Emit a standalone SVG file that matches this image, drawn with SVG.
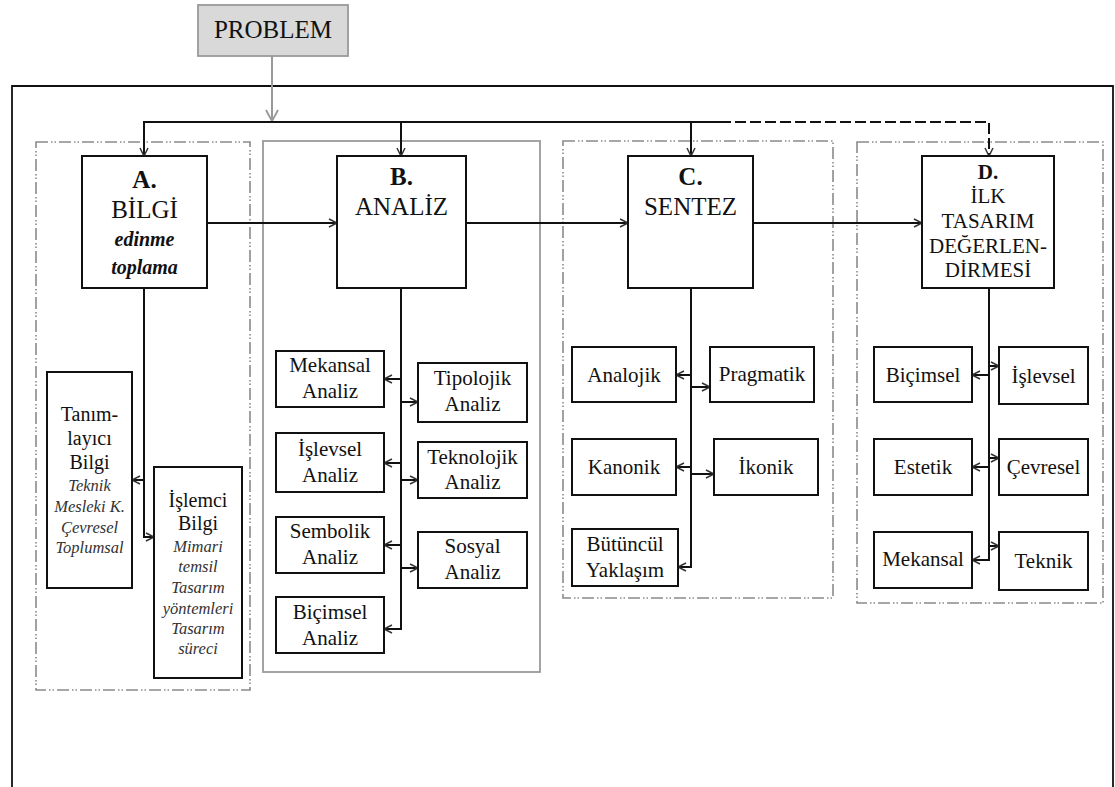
<svg xmlns="http://www.w3.org/2000/svg" width="1115" height="787" viewBox="0 0 1115 787">
<style>
text{font-family:"Liberation Serif","Times New Roman",serif;fill:#111;text-anchor:middle}
.t25{font-size:25px}
.b25{font-size:25px;font-weight:bold}
.t21{font-size:21px}
.b21{font-size:21px;font-weight:bold}
.bi{font-size:20px;font-weight:bold;font-style:italic}
.s{font-size:20px}
.m{font-size:21px}
.i{font-size:16.5px;font-style:italic;fill:#333}
.box{fill:#fff;stroke:#111;stroke-width:2}
.grp{fill:none;stroke:#8a8a8a;stroke-width:1.6;stroke-dasharray:12 3 1.5 2 1.5 3}
.grps{fill:none;stroke:#9a9a9a;stroke-width:1.8}
.ln{fill:none;stroke:#111;stroke-width:2}
</style>
<defs>
<marker id="ah" markerUnits="userSpaceOnUse" markerWidth="12" markerHeight="12" refX="9" refY="5" orient="auto">
<path d="M1,1 L9,5 L1,9" fill="none" stroke="#333" stroke-width="1.5"/>
</marker>
<marker id="ahg" markerUnits="userSpaceOnUse" markerWidth="16" markerHeight="16" refX="12" refY="7" orient="auto">
<path d="M1,1 L12,7 L1,13" fill="none" stroke="#999" stroke-width="1.8"/>
</marker>
</defs>

<g id="frame">
<polyline points="12,787 12,86 1113,86 1113,787" fill="none" stroke="#111" stroke-width="1.8"/>
</g>

<g id="groups">
<rect id="groupA" class="grp" x="36" y="142" width="214" height="548"/>
<rect id="groupB" class="grps" x="263" y="141" width="277" height="531"/>
<rect id="groupC" class="grp" x="563" y="141" width="270" height="457"/>
<rect id="groupD" class="grp" x="857" y="142" width="246" height="461"/>
</g>

<g id="connectors">
<line x1="272" y1="56" x2="272" y2="121" stroke="#999" stroke-width="2" marker-end="url(#ahg)"/>
<polyline class="ln" points="144,156 144,122 720,122"/>
<polyline class="ln" points="720,122 989,122 989,156" stroke-dasharray="11 4" marker-end="url(#ah)"/>
<line class="ln" x1="144" y1="122" x2="144" y2="156" marker-end="url(#ah)"/>
<line class="ln" x1="401" y1="122" x2="401" y2="156" marker-end="url(#ah)"/>
<line class="ln" x1="691" y1="122" x2="691" y2="156" marker-end="url(#ah)"/>
<line class="ln" x1="207" y1="223" x2="337" y2="223" marker-end="url(#ah)"/>
<line class="ln" x1="466" y1="223" x2="628" y2="223" marker-end="url(#ah)"/>
<line class="ln" x1="753" y1="223" x2="922" y2="223" marker-end="url(#ah)"/>

<polyline class="ln" points="144,288 144,537 154,537" marker-end="url(#ah)"/>
<line class="ln" x1="144" y1="480" x2="132" y2="480" marker-end="url(#ah)"/>

<polyline class="ln" points="401,288 401,629 384,629" marker-end="url(#ah)"/>
<line class="ln" x1="401" y1="379" x2="384" y2="379" marker-end="url(#ah)"/>
<line class="ln" x1="401" y1="463" x2="384" y2="463" marker-end="url(#ah)"/>
<line class="ln" x1="401" y1="545" x2="384" y2="545" marker-end="url(#ah)"/>
<line class="ln" x1="401" y1="402" x2="418" y2="402" marker-end="url(#ah)"/>
<line class="ln" x1="401" y1="480" x2="418" y2="480" marker-end="url(#ah)"/>
<line class="ln" x1="401" y1="568" x2="418" y2="568" marker-end="url(#ah)"/>

<polyline class="ln" points="691,288 691,567 678,567" marker-end="url(#ah)"/>
<line class="ln" x1="691" y1="375" x2="676" y2="375" marker-end="url(#ah)"/>
<line class="ln" x1="691" y1="467" x2="676" y2="467" marker-end="url(#ah)"/>
<line class="ln" x1="691" y1="387" x2="710" y2="387" marker-end="url(#ah)"/>
<line class="ln" x1="691" y1="474" x2="714" y2="474" marker-end="url(#ah)"/>

<polyline class="ln" points="989,288 989,560 972,560" marker-end="url(#ah)"/>
<line class="ln" x1="989" y1="375" x2="972" y2="375" marker-end="url(#ah)"/>
<line class="ln" x1="989" y1="467" x2="972" y2="467" marker-end="url(#ah)"/>
<line class="ln" x1="989" y1="366" x2="999" y2="366" marker-end="url(#ah)"/>
<line class="ln" x1="989" y1="458" x2="999" y2="458" marker-end="url(#ah)"/>
<line class="ln" x1="989" y1="546" x2="999" y2="546" marker-end="url(#ah)"/>
</g>

<g id="problem">
<rect x="198" y="5" width="150" height="51" fill="#d9d9d9" stroke="#999" stroke-width="1.8"/>
<text class="t25" x="273" y="38">PROBLEM</text>
</g>

<g id="nodeA">
<rect class="box" x="82" y="156" width="125" height="132"/>
<text class="b25" x="144.5" y="188">A.</text>
<text class="t25" x="144.5" y="218">BİLGİ</text>
<text class="bi" x="144.5" y="246">edinme</text>
<text class="bi" x="144.5" y="274">toplama</text>
</g>
<g id="nodeB">
<rect class="box" x="337" y="156" width="129" height="132"/>
<text class="b25" x="401.5" y="185">B.</text>
<text class="t25" x="401.5" y="215">ANALİZ</text>
</g>
<g id="nodeC">
<rect class="box" x="628" y="156" width="125" height="132"/>
<text class="b25" x="690.5" y="185">C.</text>
<text class="t25" x="690.5" y="215">SENTEZ</text>
</g>
<g id="nodeD">
<rect class="box" x="922" y="156" width="132" height="132"/>
<text class="b21" x="988" y="179">D.</text>
<text class="t21" x="988" y="203">İLK</text>
<text class="t21" x="988" y="228">TASARIM</text>
<text class="t21" x="988" y="253">DEĞERLEN-</text>
<text class="t21" x="988" y="277">DİRMESİ</text>
</g>

<g id="tanimlayici">
<rect class="box" x="47" y="372" width="85" height="216"/>
<text class="s" x="89.5" y="421">Tanım-</text>
<text class="s" x="89.5" y="445">layıcı</text>
<text class="s" x="89.5" y="469">Bilgi</text>
<text class="i" x="89.5" y="491">Teknik</text>
<text class="i" x="89.5" y="512">Mesleki K.</text>
<text class="i" x="89.5" y="533">Çevresel</text>
<text class="i" x="89.5" y="553">Toplumsal</text>
</g>
<g id="islemci">
<rect class="box" x="154" y="467" width="88" height="211"/>
<text class="s" x="198" y="507">İşlemci</text>
<text class="s" x="198" y="530">Bilgi</text>
<text class="i" x="198" y="552">Mimari</text>
<text class="i" x="198" y="572">temsil</text>
<text class="i" x="198" y="593">Tasarım</text>
<text class="i" x="198" y="614">yöntemleri</text>
<text class="i" x="198" y="634">Tasarım</text>
<text class="i" x="198" y="654">süreci</text>
</g>

<g id="mekansalAnaliz">
<rect class="box" x="276" y="351" width="108" height="56"/>
<text class="m" x="330" y="372">Mekansal</text>
<text class="m" x="330" y="398">Analiz</text>
</g>
<g id="islevselAnaliz">
<rect class="box" x="276" y="433" width="108" height="59"/>
<text class="m" x="330" y="456">İşlevsel</text>
<text class="m" x="330" y="482">Analiz</text>
</g>
<g id="sembolikAnaliz">
<rect class="box" x="276" y="517" width="108" height="56"/>
<text class="m" x="330" y="538">Sembolik</text>
<text class="m" x="330" y="564">Analiz</text>
</g>
<g id="bicimselAnaliz">
<rect class="box" x="276" y="597" width="108" height="56"/>
<text class="m" x="330" y="619">Biçimsel</text>
<text class="m" x="330" y="645">Analiz</text>
</g>
<g id="tipolojikAnaliz">
<rect class="box" x="418" y="363" width="109" height="59"/>
<text class="m" x="472.5" y="385">Tipolojik</text>
<text class="m" x="472.5" y="411">Analiz</text>
</g>
<g id="teknolojikAnaliz">
<rect class="box" x="418" y="442" width="109" height="56"/>
<text class="m" x="472.5" y="464">Teknolojik</text>
<text class="m" x="472.5" y="489">Analiz</text>
</g>
<g id="sosyalAnaliz">
<rect class="box" x="418" y="532" width="109" height="56"/>
<text class="m" x="472.5" y="553">Sosyal</text>
<text class="m" x="472.5" y="579">Analiz</text>
</g>

<g id="analojik">
<rect class="box" x="572" y="347" width="104" height="55"/>
<text class="m" x="624" y="382">Analojik</text>
</g>
<g id="pragmatik">
<rect class="box" x="710" y="347" width="104" height="55"/>
<text class="m" x="762" y="381">Pragmatik</text>
</g>
<g id="kanonik">
<rect class="box" x="572" y="439" width="104" height="56"/>
<text class="m" x="624" y="474">Kanonik</text>
</g>
<g id="ikonik">
<rect class="box" x="714" y="439" width="104" height="56"/>
<text class="m" x="766" y="474">İkonik</text>
</g>
<g id="butuncul">
<rect class="box" x="572" y="529" width="106" height="57"/>
<text class="m" x="625" y="551">Bütüncül</text>
<text class="m" x="625" y="577">Yaklaşım</text>
</g>

<g id="bicimsel">
<rect class="box" x="874" y="347" width="98" height="55"/>
<text class="m" x="923" y="382">Biçimsel</text>
</g>
<g id="islevsel">
<rect class="box" x="999" y="347" width="89" height="57"/>
<text class="m" x="1043.5" y="383">İşlevsel</text>
</g>
<g id="estetik">
<rect class="box" x="874" y="439" width="98" height="56"/>
<text class="m" x="923" y="474">Estetik</text>
</g>
<g id="cevresel">
<rect class="box" x="999" y="439" width="89" height="56"/>
<text class="m" x="1043.5" y="474">Çevresel</text>
</g>
<g id="mekansal">
<rect class="box" x="874" y="532" width="98" height="56"/>
<text class="m" x="923" y="566">Mekansal</text>
</g>
<g id="teknik">
<rect class="box" x="999" y="532" width="89" height="58"/>
<text class="m" x="1043.5" y="568">Teknik</text>
</g>
</svg>
